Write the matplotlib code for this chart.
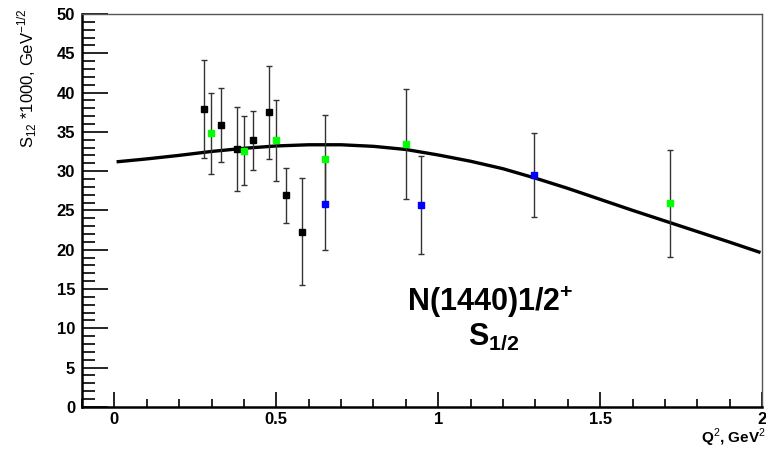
"""S1/2 helicity amplitude of N(1440)1/2+ versus Q^2."""

import matplotlib
matplotlib.use("Agg")
import matplotlib.pyplot as plt
from matplotlib.ticker import MultipleLocator

plt.rcParams["font.family"] = ["Liberation Sans", "DejaVu Sans"]
plt.rcParams["mathtext.fontset"] = "custom"
plt.rcParams["mathtext.rm"] = "Liberation Sans"
plt.rcParams["mathtext.bf"] = "Liberation Sans:bold"

# data sets (Q^2 in GeV^2, S1/2 * 1000 in GeV^-1/2)
black_q2 = [0.278, 0.329, 0.379, 0.429, 0.478, 0.529, 0.579]
black_s = [37.9, 35.9, 32.8, 33.9, 37.5, 26.9, 22.3]
black_err = [6.2, 4.7, 5.3, 3.8, 5.9, 3.5, 6.8]

green_q2 = [0.299, 0.40, 0.499, 0.649, 0.899, 1.716]
green_s = [34.8, 32.6, 33.9, 31.5, 33.5, 25.9]
green_err = [5.2, 4.4, 5.2, 5.6, 7.0, 6.8]

blue_q2 = [0.649, 0.947, 1.297]
blue_s = [25.8, 25.7, 29.5]
blue_err = [5.8, 6.2, 5.4]

# model curve
curve_q2 = [0.012, 0.1, 0.2, 0.3, 0.4, 0.5, 0.6, 0.7, 0.8, 0.9, 1.0,
            1.1, 1.2, 1.3, 1.4, 1.5, 1.6, 1.7, 1.8, 1.9, 1.99]
curve_s = [31.2, 31.55, 32.0, 32.5, 32.9, 33.2, 33.35, 33.35, 33.15, 32.75,
           32.05, 31.25, 30.3, 29.1, 27.8, 26.4, 25.0, 23.65, 22.3, 20.95, 19.7]

fig = plt.figure(figsize=(7.66, 4.5), dpi=100)
ax = fig.add_axes([0.107, 0.096, 0.888, 0.873])

ax.plot(curve_q2, curve_s, color="black", lw=2.4, zorder=2,
        solid_joinstyle="round")

for q2, s, err, col in [(black_q2, black_s, black_err, "black"),
                        (green_q2, green_s, green_err, "#00ff00"),
                        (blue_q2, blue_s, blue_err, "#0000ff")]:
    ax.errorbar(q2, s, yerr=err, fmt="s", color=col, ms=5, mec=col,
                ecolor="#333333", elinewidth=1.0, capsize=2, capthick=1.0,
                zorder=3)

ax.set_xlim(-0.1, 2.0)
ax.set_ylim(0, 50)
ax.xaxis.set_major_locator(MultipleLocator(0.5))
ax.xaxis.set_minor_locator(MultipleLocator(0.1))
ax.yaxis.set_major_locator(MultipleLocator(5))
ax.yaxis.set_minor_locator(MultipleLocator(1))
ax.xaxis.set_major_formatter(plt.FuncFormatter(lambda v, p: f"{v:g}"))
ax.tick_params(which="both", direction="in", top=False, right=False,
               labelsize=12, width=1.2)
ax.tick_params(axis="x", which="major", length=11, pad=4)
ax.tick_params(axis="x", which="minor", length=6)
ax.tick_params(axis="y", which="major", length=19, pad=5)
ax.tick_params(axis="y", which="minor", length=9)
for lab in ax.get_xticklabels() + ax.get_yticklabels():
    lab.set_fontweight("bold")

for side in ("left", "bottom"):
    ax.spines[side].set_linewidth(1.8)
for side in ("top", "right"):
    ax.spines[side].set_linewidth(1.0)
    ax.spines[side].set_color("#555555")

fig.text(0.036, 0.982, r"S$_{12}$ *1000, GeV$^{-1/2}$", rotation=90,
         ha="center", va="top", fontsize=12)
fig.text(1.0, 0.003, r"Q$^{2}$, GeV$^{2}$", ha="right", va="bottom",
         fontsize=11, fontweight="bold")

ax.text(1.16, 12.2, r"$\mathbf{N(1440)1/2^{+}}$", ha="center",
        va="baseline", fontsize=22)
ax.text(1.17, 7.9, r"$\mathbf{S_{1/2}}$", ha="center", va="baseline",
        fontsize=22)

fig.savefig("out.png", dpi=100)
